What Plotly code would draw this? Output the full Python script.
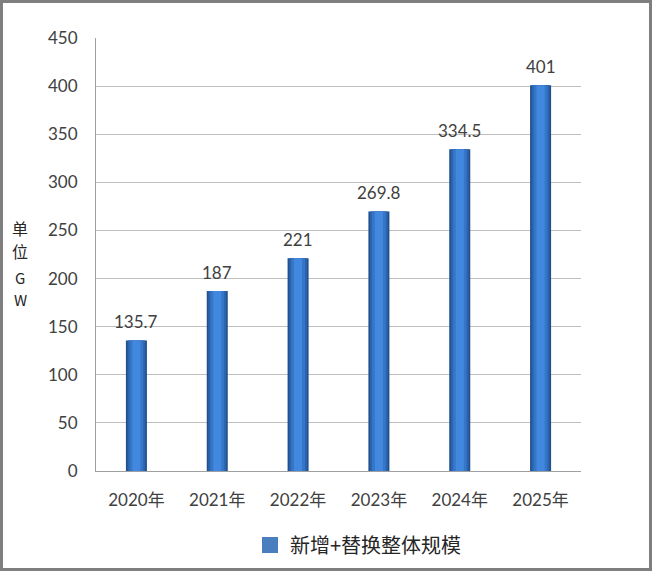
import plotly.graph_objects as go

categories = ["2020年", "2021年", "2022年", "2023年", "2024年", "2025年"]
values = [135.7, 187, 221, 269.8, 334.5, 401]
value_labels = ["135.7", "187", "221", "269.8", "334.5", "401"]
series_name = "新增+替换整体规模"
y_ticks = [0, 50, 100, 150, 200, 250, 300, 350, 400, 450]
axis_title_chars = ["单", "位", "G", "W"]

W, H = 652, 571
L, R, T, B = 96, 71, 38, 100
pw, ph = W - L - R, H - T - B

font_main = "Lato, 'Noto Sans CJK SC', sans-serif"
font_cjk = "'Noto Sans CJK SC', sans-serif"

def px_x(x):
    return (x - L) / pw

def px_y(y):
    return (T + ph - y) / ph

fig = go.Figure()
layers = [(0.26, "#23508c"), (0.22, "#2b64ae"), (0.17, "#3576c9"), (0.10, "#4188de")]
for i, (w, c) in enumerate(layers):
    fig.add_trace(go.Bar(
        x=categories, y=values, width=w, marker=dict(color=c, line=dict(width=0)),
        showlegend=False, hoverinfo="skip",
    ))
fig.add_trace(go.Scatter(x=[categories[0]], y=[None], name=series_name, mode="markers",
                         marker=dict(color="#4a7ebf", symbol="square", size=16),
                         showlegend=True))

annotations = []
for cat, v, lab in zip(categories, values, value_labels):
    annotations.append(dict(text=lab, x=cat, y=v, xref="x", yref="y", showarrow=False,
                            yanchor="middle", yshift=19,
                            font=dict(size=17, color="#404040", family=font_main)))
for ch, yy, fs in zip(axis_title_chars, [228, 251, 277, 299], [16, 16, 15, 15]):
    annotations.append(dict(text=ch, xref="paper", yref="paper", x=px_x(20), y=px_y(yy),
                            xanchor="center", yanchor="middle", showarrow=False,
                            font=dict(size=fs, color="#262626", family=font_cjk)))

fig.update_layout(
    width=W, height=H,
    margin=dict(l=L, r=R, t=T, b=B, autoexpand=False),
    barmode="overlay",
    paper_bgcolor="white", plot_bgcolor="white",
    font=dict(family=font_main, size=17, color="#404040"),
    xaxis=dict(showgrid=False, showline=True, linecolor="#a0a0a0", linewidth=1,
               ticks="", tickfont=dict(size=17), ticklabelstandoff=14, automargin=False),
    yaxis=dict(range=[0, 450], tickvals=y_ticks, showgrid=True, gridcolor="#bfbfbf",
               gridwidth=1, showline=True, linecolor="#a0a0a0", linewidth=1,
               ticks="", tickfont=dict(size=17), zeroline=False, ticklabelstandoff=14,
               automargin=False),
    legend=dict(orientation="h", xref="container", yref="container",
                x=250 / W, xanchor="left", y=1 - 545 / H, yanchor="middle",
                font=dict(size=20, color="#262626", family=font_cjk),
                itemwidth=30),
    annotations=annotations,
    shapes=[dict(type="rect", xref="paper", yref="paper",
                 x0=px_x(1.5), x1=px_x(650.5),
                 y0=px_y(569.5), y1=px_y(1.5),
                 line=dict(color="#7f7f7f", width=3), fillcolor="rgba(0,0,0,0)", layer="above")],
)

fig.write_html("out.html", config={"displayModeBar": False},
               post_script="document.body.style.margin='0';document.body.style.overflow='hidden';")
